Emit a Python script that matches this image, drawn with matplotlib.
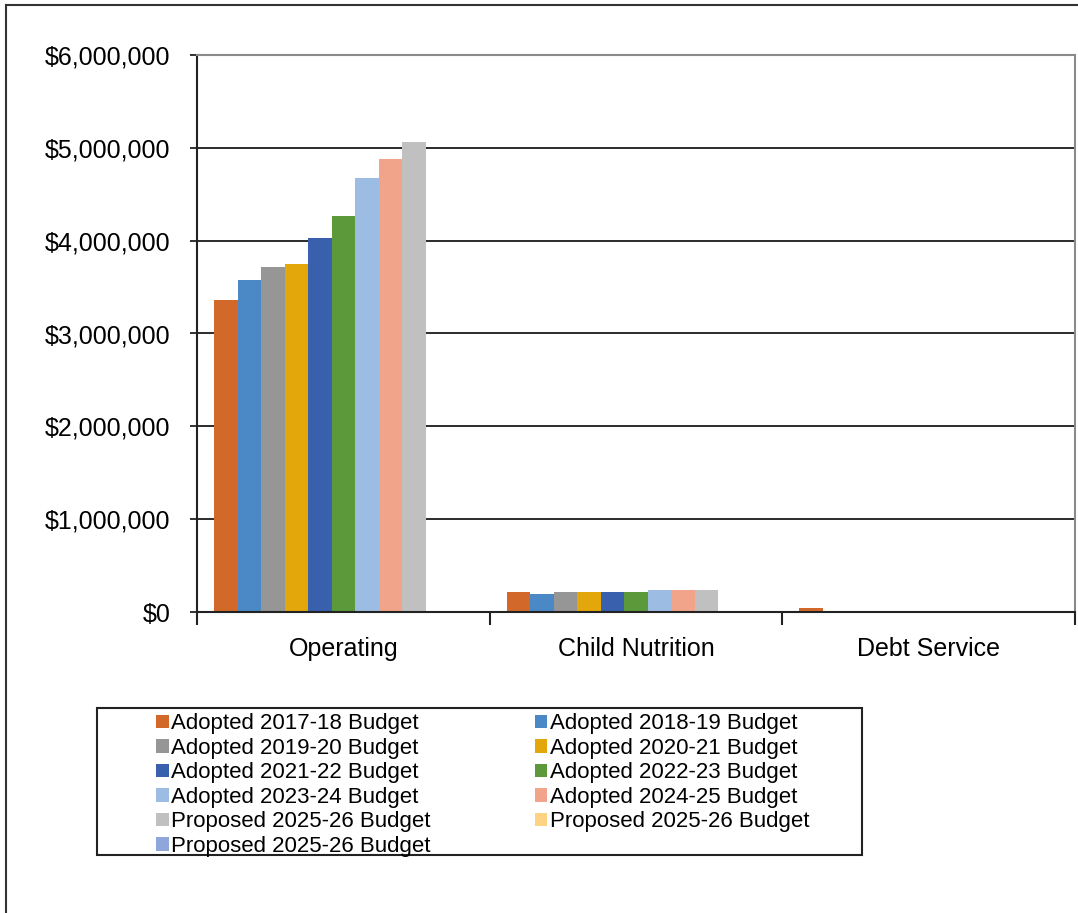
import matplotlib.pyplot as plt
import numpy as np
from matplotlib.lines import Line2D
from matplotlib.patches import Rectangle
from matplotlib.ticker import FuncFormatter

plt.rcParams["font.family"] = ["Liberation Sans", "DejaVu Sans"]

categories = ["Operating", "Child Nutrition", "Debt Service"]
series_labels = [
    "Adopted 2017-18 Budget",
    "Adopted 2018-19 Budget",
    "Adopted 2019-20 Budget",
    "Adopted 2020-21 Budget",
    "Adopted 2021-22 Budget",
    "Adopted 2022-23 Budget",
    "Adopted 2023-24 Budget",
    "Adopted 2024-25 Budget",
    "Proposed 2025-26 Budget",
    "Proposed 2025-26 Budget",
    "Proposed 2025-26 Budget",
]
# values per series: [Operating, Child Nutrition, Debt Service]
adopted_2017_18 = [3360000, 215000, 42000]
adopted_2018_19 = [3580000, 198000, 0]
adopted_2019_20 = [3720000, 215000, 0]
adopted_2020_21 = [3750000, 215000, 0]
adopted_2021_22 = [4030000, 215000, 0]
adopted_2022_23 = [4270000, 215000, 0]
adopted_2023_24 = [4680000, 234000, 0]
adopted_2024_25 = [4880000, 234000, 0]
proposed_2025_26 = [5060000, 234000, 0]
proposed_2025_26_b = [0, 0, 0]
proposed_2025_26_c = [0, 0, 0]

series_values = [
    adopted_2017_18, adopted_2018_19, adopted_2019_20, adopted_2020_21,
    adopted_2021_22, adopted_2022_23, adopted_2023_24, adopted_2024_25,
    proposed_2025_26, proposed_2025_26_b, proposed_2025_26_c,
]
colors = [
    "#D2692B", "#4A89C5", "#969696", "#E3A60B", "#3860AC", "#5C993B",
    "#9CBCE3", "#F1A489", "#C0C0C0", "#FFD384", "#8EA6DA",
]

fig = plt.figure(figsize=(10.78, 9.13), dpi=100)
W, H = 1078, 913
ax = fig.add_axes([197 / W, 1 - 612 / H, (1075 - 197) / W, (612 - 55) / H])

x = np.arange(len(categories))
n = len(series_values)
width = 0.0803
handles = []
for k, (vals, col) in enumerate(zip(series_values, colors)):
    b = ax.bar(x - n * width / 2 + (k + 0.5) * width, vals, width=width,
               color=col, label=series_labels[k], zorder=3)
    handles.append(b)

ax.set_xlim(-0.5, 2.5)
ax.set_ylim(0, 6000000)
ax.set_yticks(np.arange(0, 6000001, 1000000))
ax.yaxis.set_major_formatter(FuncFormatter(lambda v, p: f"${v:,.0f}"))
ax.tick_params(axis="y", labelsize=18, length=5, width=1.3, pad=14, color="#222222")
for y in range(1000000, 6000001, 1000000):
    ax.axhline(y, color="#1a1a1a", lw=1.3, zorder=1)

ax.set_xticks([-0.5, 0.5, 1.5, 2.5])
ax.set_xticklabels([])
ax.set_xticks(x, minor=True)
ax.set_xticklabels(categories, minor=True)
ax.tick_params(axis="x", which="major", length=9, width=1.5, color="#222222")
ax.tick_params(axis="x", which="minor", length=0, labelsize=18, pad=18)

ax.spines["left"].set_color("#222222")
ax.spines["left"].set_linewidth(1.5)
ax.spines["bottom"].set_color("#222222")
ax.spines["bottom"].set_linewidth(1.5)
ax.spines["bottom"].set_zorder(4)
ax.spines["top"].set_color("#8a8a8a")
ax.spines["top"].set_linewidth(1.5)
ax.spines["right"].set_color("#8a8a8a")
ax.spines["right"].set_linewidth(1.5)

# legend filled row-wise like the original
order = [0, 2, 4, 6, 8, 10, 1, 3, 5, 7, 9]
leg = fig.legend(
    [handles[i] for i in order],
    [series_labels[i] for i in order],
    ncol=2,
    loc="upper left",
    bbox_to_anchor=(143 / W, 1 - 700 / H),
    frameon=False,
    fontsize=16,
    handlelength=0.55,
    handleheight=0.55,
    handletextpad=0.12,
    labelspacing=0.157,
    columnspacing=4.68,
    borderpad=0.1,
)
fig.patches.append(Rectangle((97 / W, 1 - 855 / H), (862 - 97) / W, (855 - 708) / H,
                             transform=fig.transFigure, fill=False,
                             edgecolor="#222222", lw=1.5))

# outer chart border
fig.add_artist(Line2D([6 / W, 6 / W], [0, 1 - 5 / H], transform=fig.transFigure,
                      color="#333333", lw=1.5))
fig.add_artist(Line2D([6 / W, 1], [1 - 5 / H, 1 - 5 / H], transform=fig.transFigure,
                      color="#333333", lw=1.5))

fig.savefig("out.png", dpi=100)
